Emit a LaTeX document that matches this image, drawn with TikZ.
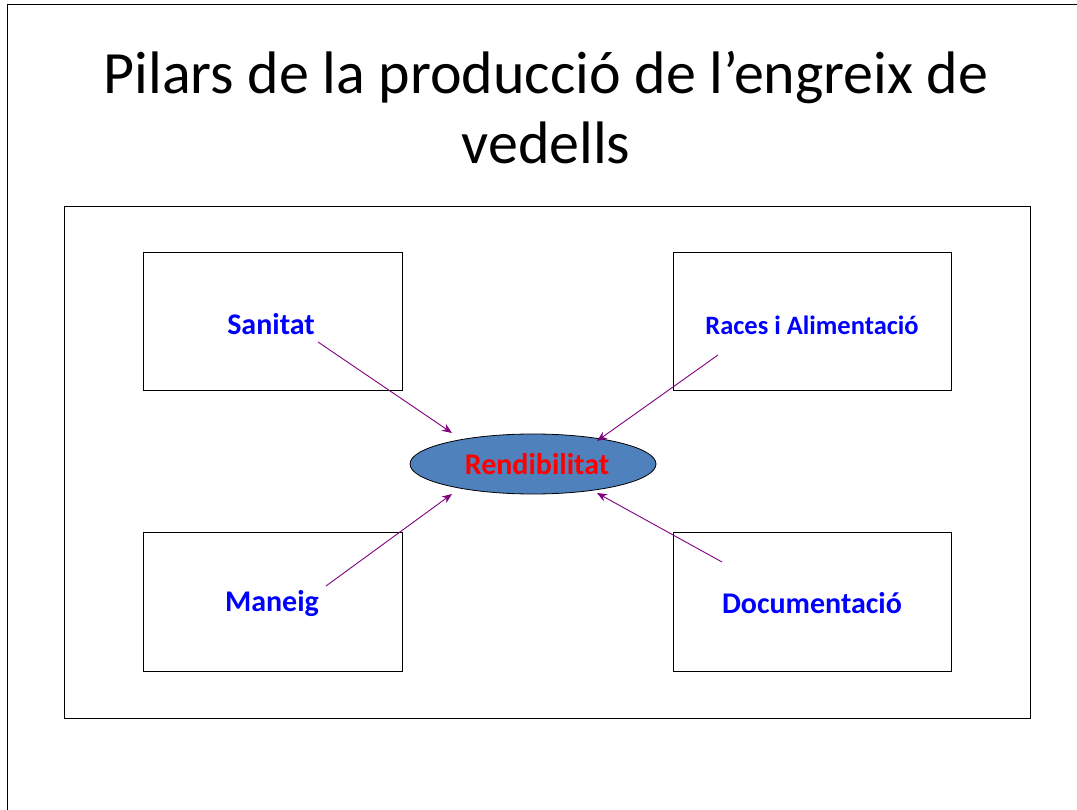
\documentclass[tikz,border=0pt]{standalone}
\usepackage{fontspec}
\setmainfont{Carlito}
\usetikzlibrary{arrows.meta,shapes.geometric,positioning}
\definecolor{pilarblue}{RGB}{0,0,255}
\definecolor{rendfill}{RGB}{79,129,189}
\definecolor{arrowpurple}{RGB}{128,0,128}
\tikzset{%
  pilar/.style  = {draw, line width=1pt, minimum width=259pt, minimum height=138pt},%
  pilartxt/.style = {font=\bfseries\fontsize{30}{34}\selectfont, text=pilarblue},%
  rend/.style   = {ellipse, draw, line width=0.8pt, fill=rendfill,%
                   minimum width=246pt, minimum height=60pt, inner sep=0pt,%
                   font=\bfseries\fontsize{30}{34}\selectfont, text=red},%
  fletxa/.style = {draw=arrowpurple, line width=0.9pt,%
                   -{Stealth[length=10pt,width=8pt]}}%
}
\begin{document}
\begin{tikzpicture}[x=1pt,y=-1pt]
	\useasboundingbox (0,0) rectangle (1077,810);
	% vora de la diapositiva
	\draw[line width=1pt] (7,810) -- (7,5) -- (1077,5);
	% titol
	\node[font=\fontsize{60}{70}\selectfont, align=center] (titol) at (546,108)
		{Pilars de la producció de l’engreix de\\vedells};
	% marc exterior
	\node[draw, line width=1pt, minimum width=966pt, minimum height=511pt] (marc) at (547,462.5) {};
	% pilars
	\node[pilar] (sanbox) at (272.5,322) {};
	\node[pilar, minimum width=278pt] (racbox) at (812,322) {};
	\node[pilar, minimum height=139pt] (manbox) at (272.5,601.5) {};
	\node[pilar, minimum width=278pt, minimum height=139pt] (docbox) at (812,601.5) {};
	\node[pilartxt] (sanitat) at (271,324) {Sanitat};
	\node[pilartxt, font=\bfseries\fontsize{26.5}{30}\selectfont] (races) at (812,325) {Races i Alimentació};
	\node[pilartxt] (maneig) at (272,604) {Maneig};
	\node[pilartxt] (docum) at (812,603) {Documentació};
	% rendibilitat
	\node[rend] (rendib) at (533,464) {\hspace*{8pt}Rendibilitat};
	% fletxes
	\coordinate (sanA) at (318,342);  \coordinate (sanB) at (452,433);
	\coordinate (racA) at (718,355);  \coordinate (racB) at (597,441);
	\coordinate (manA) at (326,586);  \coordinate (manB) at (452,494);
	\coordinate (docA) at (722,562);  \coordinate (docB) at (597,493);
	\draw[fletxa] (sanA) -- (sanB);
	\draw[fletxa] (racA) -- (racB);
	\draw[fletxa] (manA) -- (manB);
	\draw[fletxa] (docA) -- (docB);
\end{tikzpicture}
\end{document}
